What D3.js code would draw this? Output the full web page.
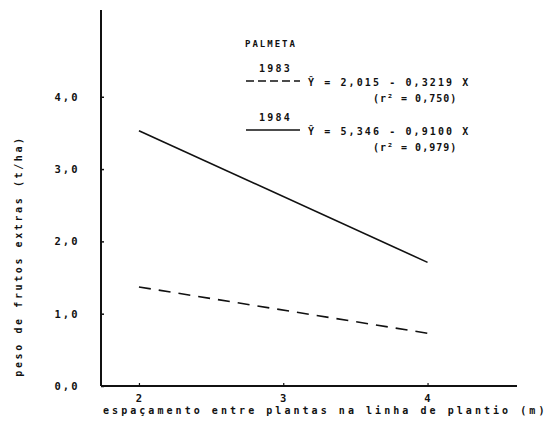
<!DOCTYPE html>
<html><head><meta charset="utf-8">
<script src="https://cdn.jsdelivr.net/npm/d3@7"></script>
<style>
body{margin:0;background:#fff;}
text{font-family:"DejaVu Sans Mono",monospace;font-weight:bold;fill:#111;}
</style></head>
<body><svg id="c" width="551" height="426"></svg>
<script>
const xTicks = [2, 3, 4];
const yTicks = [0, 1, 2, 3, 4];
const yTickLabels = ["0,0", "1,0", "2,0", "3,0", "4,0"];
const xEnds = [2, 4];
const y1983 = [1.37, 0.73];
const y1984 = [3.53, 1.71];
const titleLegend = "PALMETA";
const years = ["1983", "1984"];
const equations = ["Ŷ = 2,015 - 0,3219 X", "Ŷ = 5,346 - 0,9100 X"];
const r2 = ["(r² = 0,750)", "(r² = 0,979)"];

const svg = d3.select("#c");
const x = d3.scaleLinear().domain([1.737, 4.62]).range([101, 517]);
const y = d3.scaleLinear().domain([0, 5.2]).range([386, 10]);
const ink = "#111";

// axes
const yAxis = d3.axisRight(y).tickValues(yTicks).tickSize(3).tickFormat("");
svg.append("g").attr("transform","translate(101,0)").call(yAxis)
  .call(g=>g.select(".domain").attr("stroke",ink).attr("stroke-width",2).attr("d","M0,10V386"))
  .call(g=>g.selectAll("line").attr("stroke",ink).attr("stroke-width",1.5));
const xAxis = d3.axisTop(x).tickValues(xTicks).tickSize(3).tickFormat("");
svg.append("g").attr("transform","translate(0,386)").call(xAxis)
  .call(g=>g.select(".domain").attr("stroke",ink).attr("stroke-width",1.8).attr("d","M101,0H517"))
  .call(g=>g.selectAll("line").attr("stroke",ink).attr("stroke-width",1.2));

// tick labels
svg.append("g").selectAll("text").data(yTicks).join("text")
  .attr("x",67).attr("y",d=>y(d)+4).attr("text-anchor","middle")
  .attr("font-size",10.5).attr("letter-spacing",2)
  .text((d,i)=>yTickLabels[i]);
svg.append("g").selectAll("text").data(xTicks).join("text")
  .attr("x",d=>x(d)).attr("y",402).attr("text-anchor","middle")
  .attr("font-size",10.5).text(d=>d);

// axis titles
svg.append("text").attr("x",103).attr("y",414)
  .attr("font-size",10).attr("letter-spacing",3.05)
  .text("espaçamento entre plantas na linha de plantio (m)");
svg.append("text").attr("transform","translate(22,256) rotate(-90)").attr("text-anchor","middle")
  .attr("font-size",10).attr("letter-spacing",2.6)
  .text("peso de frutos extras (t/ha)");

// lines
const line = d3.line().x(d=>x(d[0])).y(d=>y(d[1]));
svg.append("path").attr("d",line(xEnds.map((v,i)=>[v,y1984[i]])))
  .attr("fill","none").attr("stroke",ink).attr("stroke-width",1.6);
svg.append("path").attr("d",line(xEnds.map((v,i)=>[v,y1983[i]])))
  .attr("fill","none").attr("stroke",ink).attr("stroke-width",1.6).attr("stroke-dasharray","12,8");

// legend
const L = svg.append("g");
L.append("text").attr("x",245).attr("y",47).attr("font-size",9).attr("letter-spacing",2).text(titleLegend);
const rowsY = [0, 49];
years.forEach((yr,i)=>{
  const oy = rowsY[i];
  L.append("text").attr("x",259).attr("y",72+oy).attr("font-size",10).attr("letter-spacing",2.2).text(yr);
  L.append("line").attr("x1",246).attr("x2",300).attr("y1",81+oy).attr("y2",81+oy)
    .attr("stroke",ink).attr("stroke-width",1.6).attr("stroke-dasharray", i===0 ? "8,4" : null);
  L.append("text").attr("x",308).attr("y",86+oy).attr("font-size",10).attr("letter-spacing",2.1).text(equations[i]);
  L.append("text").attr("x",373).attr("y",102+oy).attr("font-size",10).attr("letter-spacing",1.0).text(r2[i]);
});
</script></body></html>
